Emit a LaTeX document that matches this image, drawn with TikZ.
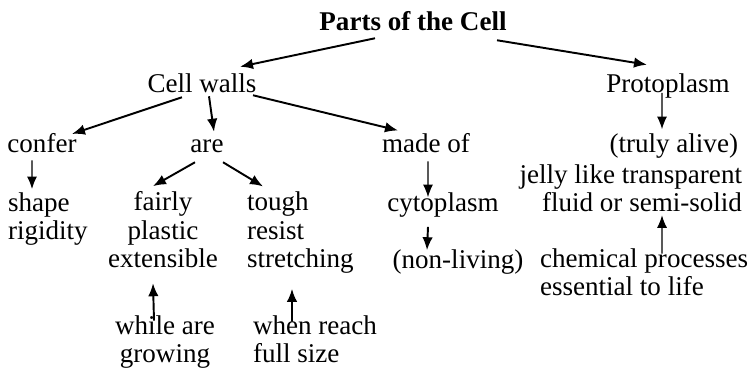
\documentclass[tikz,border=0pt]{standalone}
\usepackage{fontspec}
\setmainfont{Liberation Serif}
\usetikzlibrary{arrows.meta}

\begin{document}
\begin{tikzpicture}[
  txt/.style={inner sep=0pt, outer sep=0pt, font=\fontsize{15.4}{16.3}\selectfont},
  arrow/.style={-{Latex[length=2.6mm,width=2.1mm]}, line width=1.1pt},
  thinarrow/.style={-{Latex[length=2.5mm,width=2mm]}, line width=0.75pt}
]
\useasboundingbox (0,0) rectangle (14.98,-7.4);

\node[txt, anchor=base, font=\fontsize{15.4}{16.3}\selectfont\bfseries] (title) at (8.26,-0.62) {Parts of the Cell};
\node[txt, anchor=base] (walls) at (4.04,-1.86) {Cell walls};
\node[txt, anchor=base] (proto) at (13.36,-1.86) {Protoplasm};
\node[txt, anchor=base] (confer) at (0.84,-3.06) {confer};
\node[txt, anchor=base] (are) at (4.14,-3.06) {are};
\node[txt, anchor=base] (madeof) at (8.52,-3.06) {made of};
\node[txt, anchor=base east] (alive) at (14.76,-3.06) {(truly alive)};
\node[txt, anchor=base east, align=right] (jelly) at (14.84,-4.24) {jelly like transparent\\fluid or semi-solid};
\node[txt, anchor=base west, align=left] (shape) at (0.16,-4.8) {shape\\rigidity};
\node[txt, anchor=base, align=center] (fairly) at (3.26,-5.36) {fairly\\plastic\\extensible};
\node[txt, anchor=base west, align=left] (tough) at (4.94,-5.36) {tough\\resist\\stretching};
\node[txt, anchor=base] (cyto) at (8.86,-4.24) {cytoplasm};
\node[txt, anchor=base] (nonliving) at (9.16,-5.38) {(non-living)};
\node[txt, anchor=base west, align=left] (chem) at (10.8,-5.92) {chemical processes\\essential to life};
\node[txt, anchor=base, align=center] (while) at (3.3,-7.26) {while are\\growing};
\node[txt, anchor=base west, align=left] (when) at (5.06,-7.26) {when reach\\full size};

\draw[arrow] ([shift={(-0.76,-0.14)}]title.south) -- ([shift={(0.76,0.15)}]walls.north);
\draw[arrow] ([shift={(1.68,-0.18)}]title.south) -- ([shift={(-0.42,0.19)}]proto.north);
\draw[arrow] ([shift={(-0.4,-0.08)}]walls.south) -- ([shift={(0.6,0)}]confer.north);
\draw[arrow] ([shift={(0.14,-0.06)}]walls.south) -- ([shift={(0.14,0.17)}]are.north);
\draw[arrow] ([shift={(1.02,-0.04)}]walls.south) -- ([shift={(-0.56,0.07)}]madeof.north);
\draw[thinarrow] ([shift={(-0.2,-0.14)}]confer.south) -- ([shift={(0.48,0.07)}]shape.north west);
\draw[arrow] ([shift={(-0.24,-0.18)}]are.south) -- ([shift={(-0.2,0.11)}]fairly.north);
\draw[arrow] ([shift={(0.32,-0.18)}]are.south) -- ([shift={(0.32,0.11)}]tough.north west);
\draw[arrow] ([shift={(-0.22,-0.1)}]while.north) -- ([shift={(-0.2,-0.3)}]fairly.south);
\draw[arrow] ([shift={(0.78,-0.12)}]when.north west) -- ([shift={(0.9,-0.3)}]tough.south west);
\draw[thinarrow] ([shift={(0.04,-0.16)}]madeof.south) -- ([shift={(-0.3,-0.08)}]cyto.north);
\draw[arrow] ([shift={(-0.3,-0.18)}]cyto.south) -- ([shift={(-0.62,0)}]nonliving.north);
\draw[thinarrow] ([shift={(-0.12,0.12)}]proto.south) -- ([shift={(-1.52,0.1)}]alive.north east);
\draw[thinarrow] ([shift={(2.44,-0.1)}]chem.north west) -- ([shift={(-1.6,-0.06)}]jelly.south east);
\end{tikzpicture}
\end{document}
